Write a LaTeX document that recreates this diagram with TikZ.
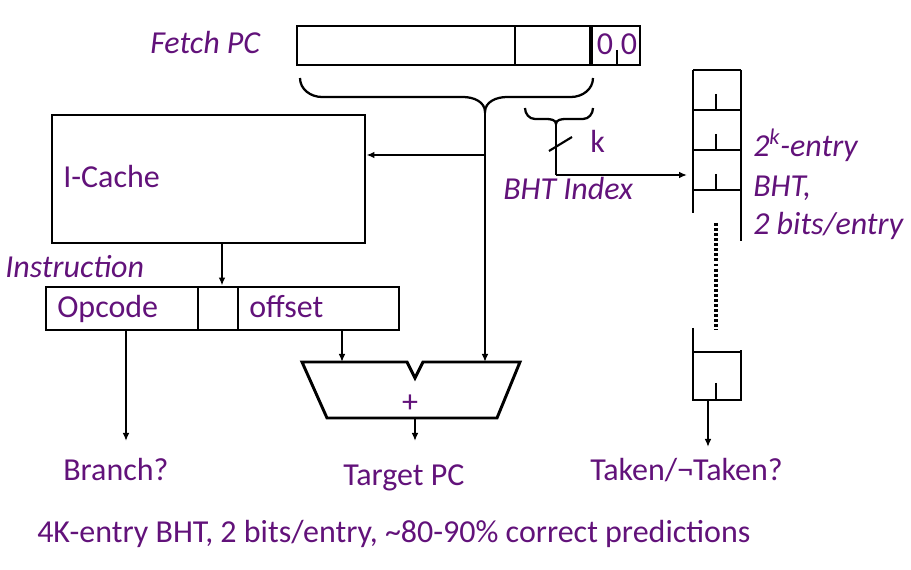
\documentclass[tikz,border=0pt]{standalone}
\usepackage{fontspec}
\setmainfont{Carlito}
\usetikzlibrary{positioning}
\usetikzlibrary{fit}
\usetikzlibrary{calc}
\usetikzlibrary{arrows.meta}
\definecolor{txtpurple}{RGB}{98,18,122}
\tikzset{>={Latex[length=6pt,width=5pt]}}
\tikzset{blk/.style={draw, line width=2.2pt, inner sep=0pt}}
\tikzset{lbl/.style={text=txtpurple, inner sep=0pt, anchor=base west, font=\fontsize{24}{28}\selectfont}}
\tikzset{ilbl/.style={lbl, font=\fontsize{24}{28}\selectfont\itshape}}
\tikzset{wire/.style={line width=1.6pt}}
\tikzset{arr/.style={wire, ->}}
\tikzset{brc/.style={line width=1.7pt}}

\begin{document}
\begin{tikzpicture}[x=0.75pt, y=-0.75pt]
\useasboundingbox (0,0) rectangle (911,570);

% fetch PC register
\node[ilbl] (fetchpc) at (150,54) {Fetch PC};
\node[blk, fit={(297,26) (640,65)}] (pc) {};
\draw[blk] (515,26) -- (515,65);
\draw[blk, line width=3pt] (591,26) -- (591,65);
\node[lbl, anchor=base] (bit1) at (605,55) {0};
\node[lbl, anchor=base] (bit0) at (629,55) {0};
\draw[wire] (617,50) -- (617,65);

% braces under the PC
\coordinate (pctip) at (485,112);
\coordinate (bhttip) at (556,124);
\draw[brc] (300,78) to[out=-90,in=180] (322,97) -- (463,97)
  to[out=0,in=90] (pctip) to[out=90,in=180] (507,97) -- (571,97)
  to[out=0,in=-90] (593,78);
\draw[brc] (525,108) to[out=-90,in=180] (535,119) -- (546,119)
  to[out=0,in=90] (bhttip) to[out=90,in=180] (566,119) -- (583,119)
  to[out=0,in=-90] (593,108);

% I-Cache and instruction
\node[blk, fit={(52,115) (365,243)}] (icache) {};
\node[lbl] (icachetxt) at (63,188) {I-Cache};
\node[ilbl] (instr) at (5,278) {Instruction};
\node[blk, fit={(46,287) (198,330)}] (opcode) {};
\node[blk, fit={(198,287) (238,330)}] (gap) {};
\node[blk, fit={(238,287) (399,330)}] (offset) {};
\node[lbl] (opcodetxt) at (57,318) {Opcode};
\node[lbl] (offsettxt) at (249,318) {offset};

\coordinate (pcsplit) at (485,155);
\coordinate (iout) at (222,243);
\draw[wire] (pctip) -- (pcsplit);
\draw[arr] (pcsplit) -- (pcsplit -| icache.east);
\draw[arr] (iout) -- (iout |- gap.north);

% adder
\coordinate (addtl) at (302,362);
\coordinate (addnl) at (407,362);
\coordinate (addnb) at (415,378);
\coordinate (addnr) at (423,362);
\coordinate (addtr) at (520,362);
\coordinate (addbr) at (497,418);
\coordinate (addbl) at (327,418);
\draw[blk, line join=miter] (addtl) -- (addnl) -- (addnb) -- (addnr) -- (addtr)
  -- (addbr) -- (addbl) -- cycle;
\node[lbl, anchor=center] (plus) at (410,404) {+};

\coordinate (offout) at (342,330);
\coordinate (opout) at (126,330);
\coordinate (addout) at (415,418);
\draw[arr] (offout) -- (offout |- addtl);
\draw[arr] (pcsplit) -- (pcsplit |- addtr);

\node[lbl] (branch) at (63,480) {Branch?};
\node[lbl] (target) at (343,485) {Target PC};
\coordinate (branchin) at (126,441);
\coordinate (targetin) at (415,441);
\draw[arr] (opout) -- (branchin);
\draw[arr] (addout) -- (targetin);

% BHT index
\coordinate (bhtcorner) at (556,175);
\coordinate (bhtin) at (687,175);
\draw[wire] (bhttip) -- (bhtcorner);
\draw[arr] (bhtcorner) -- (bhtin);
\draw[wire] (549,151) -- (572,137);
\node[lbl] (k) at (590,153) {k};
\node[ilbl] (bhtidx) at (503,200) {BHT Index};

% BHT table
\draw[blk] (693,70) -- (693,213);
\draw[blk] (741,70) -- (741,241);
\draw[blk] (693,70) -- (741,70);
\foreach \y in {110,150,190} {
  \draw[blk] (693,\y) -- (741,\y);
  \draw[blk] (716,\y-16) -- (716,\y);
}
\draw[line width=3pt, dash pattern=on 2.2pt off 1.6pt] (716,223) -- (716,330);
\draw[blk] (693,328) -- (693,400) -- (741,400) -- (741,350);
\draw[blk] (693,352) -- (741,352);
\draw[blk] (716,383) -- (716,400);

\node[ilbl] (bhtl1) at (753,157) {2\textsuperscript{k}-entry};
\node[ilbl] (bhtl2) at (753,197) {BHT,};
\node[ilbl] (bhtl3) at (753,235) {2 bits/entry};

\coordinate (bhtout) at (708,400);
\coordinate (takenin) at (708,447);
\draw[arr] (bhtout) -- (takenin);
\node[lbl] (taken) at (590,480) {Taken/¬Taken?};

\node[lbl] (note) at (37,542) {4K-entry BHT, 2 bits/entry, \textasciitilde80-90\% correct predictions};
\end{tikzpicture}
\end{document}
